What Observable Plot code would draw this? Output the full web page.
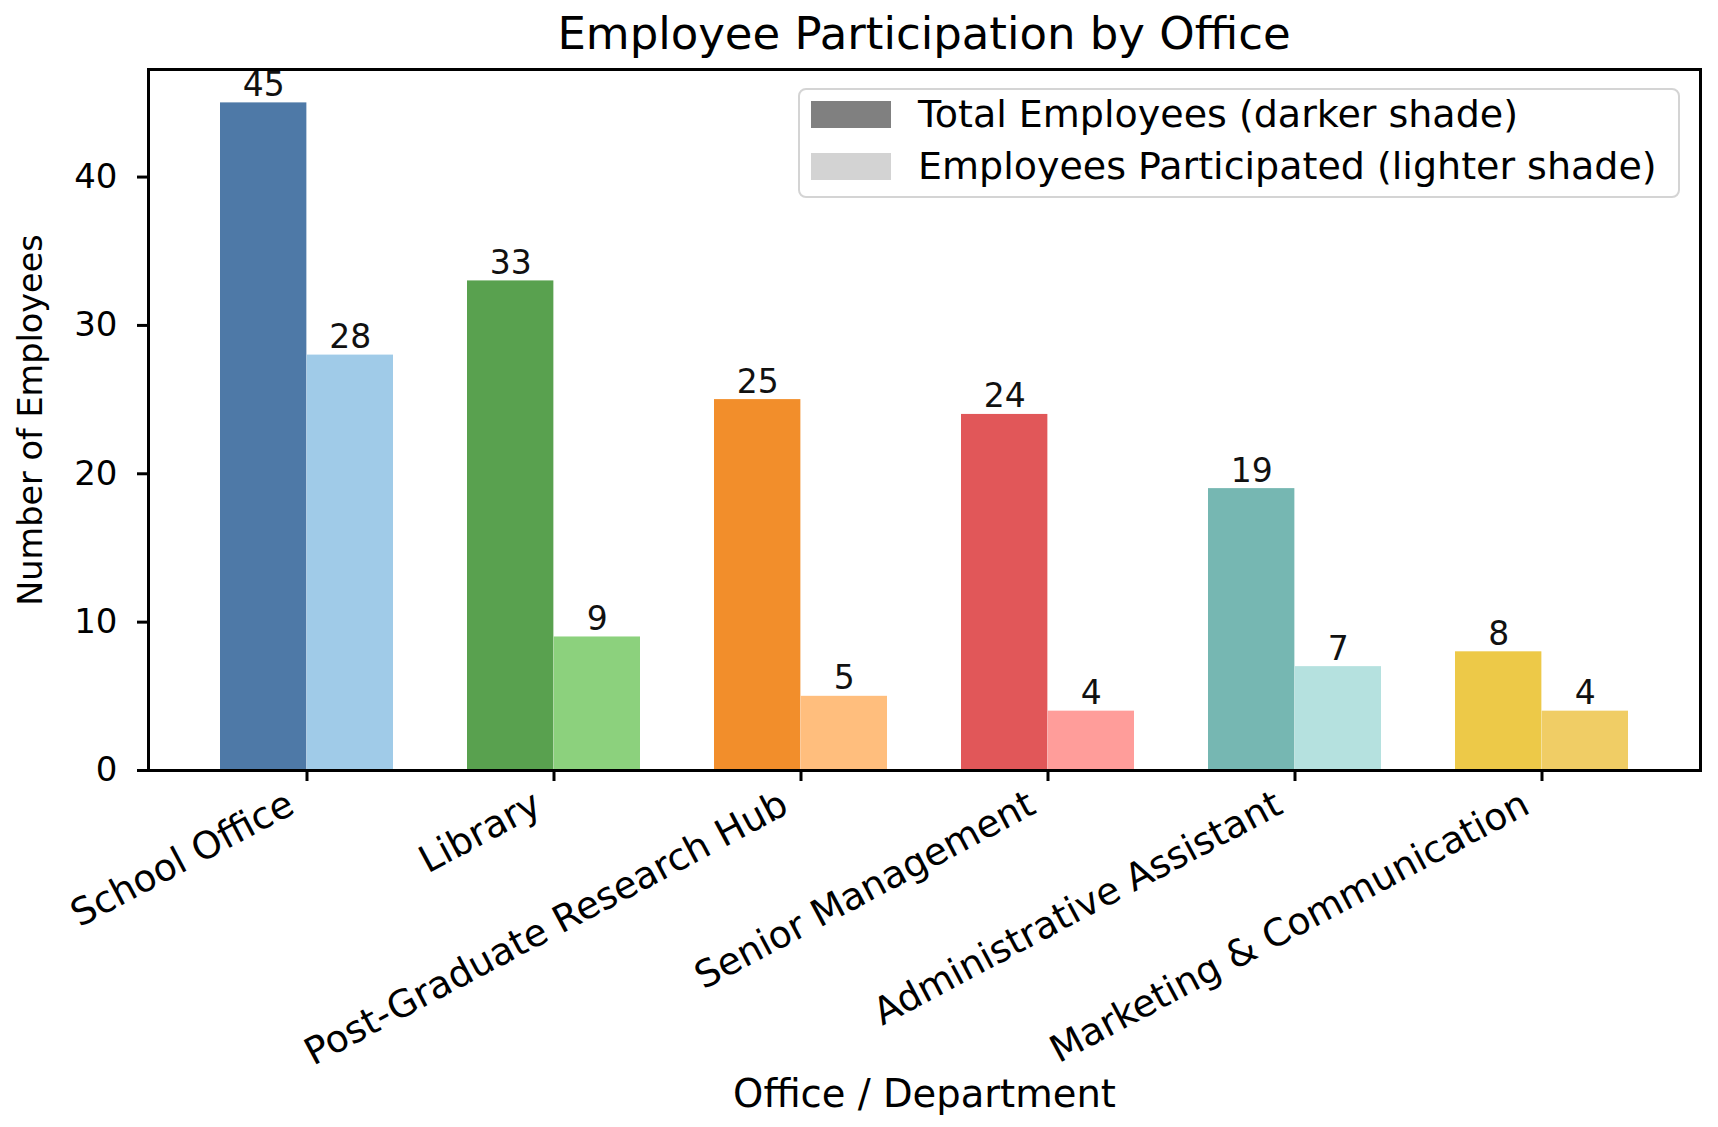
<!DOCTYPE html>
<html>
<head>
<meta charset="utf-8">
<script src="https://cdn.jsdelivr.net/npm/d3@7"></script>
<script src="https://cdn.jsdelivr.net/npm/@observablehq/plot@0.6"></script>
<style>
  html, body { margin: 0; padding: 0; background: #fff; }
  #wrap { position: relative; width: 1718px; height: 1127px; font-family: "DejaVu Sans", sans-serif; color: #000; }
  #wrap svg { position: absolute; left: 0; top: 0; }
  #title { position: absolute; left: 148px; width: 1552px; top: 7px; text-align: center; font-size: 45px; line-height: 54px; }
  #legend { position: absolute; left: 798px; top: 88px; width: 878px; height: 106px; border: 2px solid #d4d4d4; border-radius: 8px; background: rgba(255,255,255,0.85); }
  .row { position: absolute; left: 11px; height: 40px; display: flex; align-items: center; font-size: 38px; white-space: nowrap; }
  .sw { width: 80px; height: 27px; margin-right: 27px; }
</style>
</head>
<body>
<div id="wrap">
  <div id="title">Employee Participation by Office</div>
</div>
<script>
const offices = ["School Office", "Library", "Post-Graduate Research Hub", "Senior Management", "Administrative Assistant", "Marketing & Communication"];
const totalEmployees = [45, 33, 25, 24, 19, 8];
const participated = [28, 9, 5, 4, 7, 4];
const darkColors = ["#4e79a7", "#59a14f", "#f28e2b", "#e15759", "#76b7b2", "#edc948"];
const lightColors = ["#a0cbe8", "#8cd17d", "#ffbe7d", "#ff9d9a", "#b5e1df", "#f0cd65"];
const yTicks = [0, 10, 20, 30, 40];
const legendItems = [
  {label: "Total Employees (darker shade)", color: "#808080"},
  {label: "Employees Participated (lighter shade)", color: "#d3d3d3"}
];

const rows = offices.map((office, i) => ({
  office, total: totalEmployees[i], part: participated[i], dark: darkColors[i], light: lightColors[i]
}));

const W = 1718, H = 1127, mL = 148, mR = 18, mT = 69, mB = 357;
const padInner = 0.3, padOuter = 0.285;
const step = (W - mL - mR) / (offices.length - padInner + 2 * padOuter);
const half = step * (1 - padInner) / 2;
const font = "DejaVu Sans";

const chart = Plot.plot({
  width: W, height: H,
  marginLeft: mL, marginRight: mR, marginTop: mT, marginBottom: mB,
  style: {fontFamily: font, background: "transparent", color: "#000", overflow: "visible"},
  x: {domain: offices, paddingInner: padInner, paddingOuter: padOuter, align: 0.5},
  y: {domain: [0, 47.25]},
  color: {type: "identity"},
  marks: [
    Plot.barY(rows, {x: "office", y: "total", fill: "dark", insetRight: half, insetLeft: 0}),
    Plot.barY(rows, {x: "office", y: "part", fill: "light", insetLeft: half, insetRight: 0}),
    Plot.text(rows, {x: "office", y: "total", text: d => String(d.total), dx: -half / 2, dy: -7, lineAnchor: "bottom", fontSize: 33, fill: "#111"}),
    Plot.text(rows, {x: "office", y: "part", text: d => String(d.part), dx: half / 2, dy: -7, lineAnchor: "bottom", fontSize: 33, fill: "#111"}),
    Plot.axisY({ticks: yTicks, tickSize: 11, tickPadding: 20, fontSize: 34, strokeWidth: 3, label: null}),
    Plot.axisX({tickSize: 11, strokeWidth: 3, fill: "none", label: null}),
    Plot.axisX({tickSize: 0, tickPadding: 31, tickRotate: -28, dx: -16, fontSize: 37.5, label: null}),
    Plot.text(["Number of Employees"], {frameAnchor: "left", textAnchor: "middle", dx: -117, rotate: -90, fontSize: 33.5, text: d => d}),
    Plot.text(["Office / Department"], {frameAnchor: "bottom", textAnchor: "middle", dy: 336, fontSize: 38.5, text: d => d}),
    Plot.frame({stroke: "#000", strokeWidth: 3})
  ]
});

const wrap = document.getElementById("wrap");
wrap.insertBefore(chart, wrap.firstChild);

const legend = document.createElement("div");
legend.id = "legend";
legendItems.forEach((item, i) => {
  const r = document.createElement("div");
  r.className = "row";
  r.style.top = (4 + i * 52) + "px";
  const sw = document.createElement("div");
  sw.className = "sw";
  sw.style.background = item.color;
  const t = document.createElement("span");
  t.textContent = item.label;
  r.appendChild(sw);
  r.appendChild(t);
  legend.appendChild(r);
});
wrap.appendChild(legend);
</script>
</body>
</html>
